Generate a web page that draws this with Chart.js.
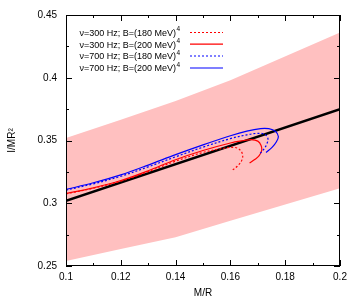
<!DOCTYPE html>
<html>
<head>
<meta charset="utf-8">
<script src="https://cdn.jsdelivr.net/npm/chart.js@4/dist/chart.umd.min.js"></script>
<style>
html,body{margin:0;padding:0;background:#fff}
#wrap{width:361px;height:305px}
</style>
</head>
<body>
<div id="wrap"><canvas id="c"></canvas></div>
<script>
// band (lower / upper edge)
var bandX    = [0.10, 0.12, 0.14, 0.16, 0.20];
var bandLow  = [0.254, 0.2635, 0.273, 0.286, 0.312];
var bandHigh = [0.352, 0.3665, 0.3815, 0.398, 0.436];
// fit line
var fitX = [0.10, 0.20];
var fitY = [0.302, 0.375];
// curves
var labels = ["\u03bd=300 Hz; B=(180 MeV)", "\u03bd=300 Hz; B=(200 MeV)", "\u03bd=700 Hz; B=(180 MeV)", "\u03bd=700 Hz; B=(200 MeV)"];
var r180x = [0.100,0.110,0.120,0.130,0.140,0.150,0.156,0.160,0.1625,0.1640,0.1645,0.1640,0.1625,0.1605];
var r180y = [0.3075,0.3120,0.3176,0.3252,0.3335,0.3405,0.3432,0.3445,0.3440,0.3412,0.3375,0.3335,0.3295,0.3260];
var r200x = [0.100,0.110,0.120,0.130,0.140,0.150,0.160,0.165,0.1675,0.1700,0.1712,0.1714,0.1705,0.1690,0.1670];
var r200y = [0.3077,0.3123,0.3181,0.3259,0.3347,0.3420,0.3480,0.3500,0.3507,0.3495,0.3460,0.3420,0.3380,0.3350,0.3320];
var b180x = [0.100,0.110,0.120,0.130,0.140,0.150,0.160,0.166,0.1700,0.1725,0.1737,0.1732,0.1720,0.1705];
var b180y = [0.3105,0.3155,0.3215,0.3290,0.3370,0.3447,0.3515,0.3545,0.3557,0.3550,0.3515,0.3468,0.3425,0.3390];
var b200x = [0.100,0.110,0.120,0.130,0.140,0.150,0.160,0.166,0.171,0.174,0.1765,0.1775,0.1768,0.1752,0.1730];
var b200y = [0.311,0.3163,0.3226,0.3304,0.3387,0.3465,0.3538,0.3575,0.3595,0.3594,0.3572,0.3532,0.3490,0.3445,0.3405];
// ticks
var xTicks = [0.1,0.12,0.14,0.16,0.18,0.2];
var xTickLabels = ["0.1","0.12","0.14","0.16","0.18","0.2"];
var yTicks = [0.25,0.3,0.35,0.4,0.45];
var yTickLabels = ["0.25","0.3","0.35","0.4","0.45"];

function pts(xs,ys){ var a=[]; for (var i=0;i<xs.length;++i) a.push({x:xs[i],y:ys[i]}); return a; }

var curves = [
  {x:r180x, y:r180y, color:"#ff0000", dash:[2,2]},
  {x:r200x, y:r200y, color:"#ff0000", dash:[]},
  {x:b180x, y:b180y, color:"#0000ff", dash:[2,2]},
  {x:b200x, y:b200y, color:"#0000ff", dash:[]}
];

// lower order = drawn on top
var datasets = [
  {data: pts(bandX,bandLow), borderWidth:0, pointRadius:0, fill:false, order:10},
  {data: pts(bandX,bandHigh), borderWidth:0, pointRadius:0, fill:"-1", backgroundColor:"#ffc0c0", order:9},
  {data: pts(fitX,fitY), borderColor:"#000", borderWidth:2.5, pointRadius:0, fill:false, order:5}
];
for (var i=0;i<curves.length;++i) {
  datasets.push({label:labels[i], data: pts(curves[i].x,curves[i].y), borderColor:curves[i].color, borderWidth:1.2,
    borderDash:curves[i].dash, pointRadius:0, fill:false, tension:0.35, order:4-i});
}

var frame = {
  id:"frame",
  afterDatasetsDraw: function(chart){
    var ctx = chart.ctx, a = chart.chartArea, x = chart.scales.x, y = chart.scales.y;
    ctx.save();
    ctx.strokeStyle = "#000"; ctx.lineWidth = 1;
    ctx.beginPath();
    for (var k=0;k<=10;++k) {
      var v = 0.1+k*0.01, p = Math.round(x.getPixelForValue(v))+0.5, len = (k%2==0) ? 6 : 3;
      ctx.moveTo(p,a.bottom); ctx.lineTo(p,a.bottom-len);
      ctx.moveTo(p,a.top); ctx.lineTo(p,a.top+len);
    }
    for (var k=0;k<=8;++k) {
      var v = 0.25+k*0.025, p = Math.round(y.getPixelForValue(v))+0.5, len = (k%2==0) ? 6 : 3;
      ctx.moveTo(a.left,p); ctx.lineTo(a.left+len,p);
      ctx.moveTo(a.right,p); ctx.lineTo(a.right-len,p);
    }
    ctx.stroke();
    ctx.strokeRect(Math.round(a.left)+0.5, Math.round(a.top)+0.5, Math.round(a.width)-1, Math.round(a.height)-1);
    // legend
    var rows = [32.5,44.2,56,68];
    for (var i=0;i<curves.length;++i) {
      ctx.fillStyle = "#000";
      ctx.font = "9px 'Liberation Sans', Arial, sans-serif";
      ctx.textAlign = "right"; ctx.textBaseline = "middle";
      ctx.fillText(labels[i], 176, rows[i]+1);
      ctx.font = "6.5px 'Liberation Sans', Arial, sans-serif";
      ctx.textAlign = "left";
      ctx.fillText("4", 176.5, rows[i]-3);
      ctx.strokeStyle = curves[i].color; ctx.lineWidth = 1.2;
      ctx.setLineDash(curves[i].dash);
      ctx.beginPath(); ctx.moveTo(190,rows[i]); ctx.lineTo(223,rows[i]); ctx.stroke();
      ctx.setLineDash([]);
    }
    ctx.restore();
  }
};

var font = {family:"'Liberation Sans', Arial, sans-serif", size:10};
new Chart(document.getElementById("c"), {
  type:"line",
  data:{datasets:datasets},
  options:{
    responsive:true, maintainAspectRatio:false, animation:false,
    layout:{padding:{top:14,right:21,left:0,bottom:0}},
    plugins:{legend:{display:false}, tooltip:{enabled:false}},
    scales:{
      x:{type:"linear", min:0.1, max:0.2,
        afterBuildTicks: function(s){ s.ticks = xTicks.map(function(v){return {value:v};}); },
        afterFit: function(s){ s.height = 39; },
        grid:{display:false, drawTicks:false}, border:{display:false},
        ticks:{color:"#000", font:font, padding:5, maxRotation:0, autoSkip:false,
          callback:function(v,i){ return xTickLabels[i]; }},
        title:{display:true, text:"M/R", color:"#000", font:font, padding:{top:0,bottom:6}}
      },
      y:{type:"linear", min:0.25, max:0.45,
        afterBuildTicks: function(s){ s.ticks = yTicks.map(function(v){return {value:v};}); },
        afterFit: function(s){ s.width = 66; },
        grid:{display:false, drawTicks:false}, border:{display:false},
        ticks:{color:"#000", font:font, padding:9, autoSkip:false,
          callback:function(v,i){ return yTickLabels[i]; }},
        title:{display:true, text:"I/MR\u00b2", color:"#000", font:font, padding:{top:6,bottom:0}}
      }
    }
  },
  plugins:[frame]
});
</script>
</body>
</html>
